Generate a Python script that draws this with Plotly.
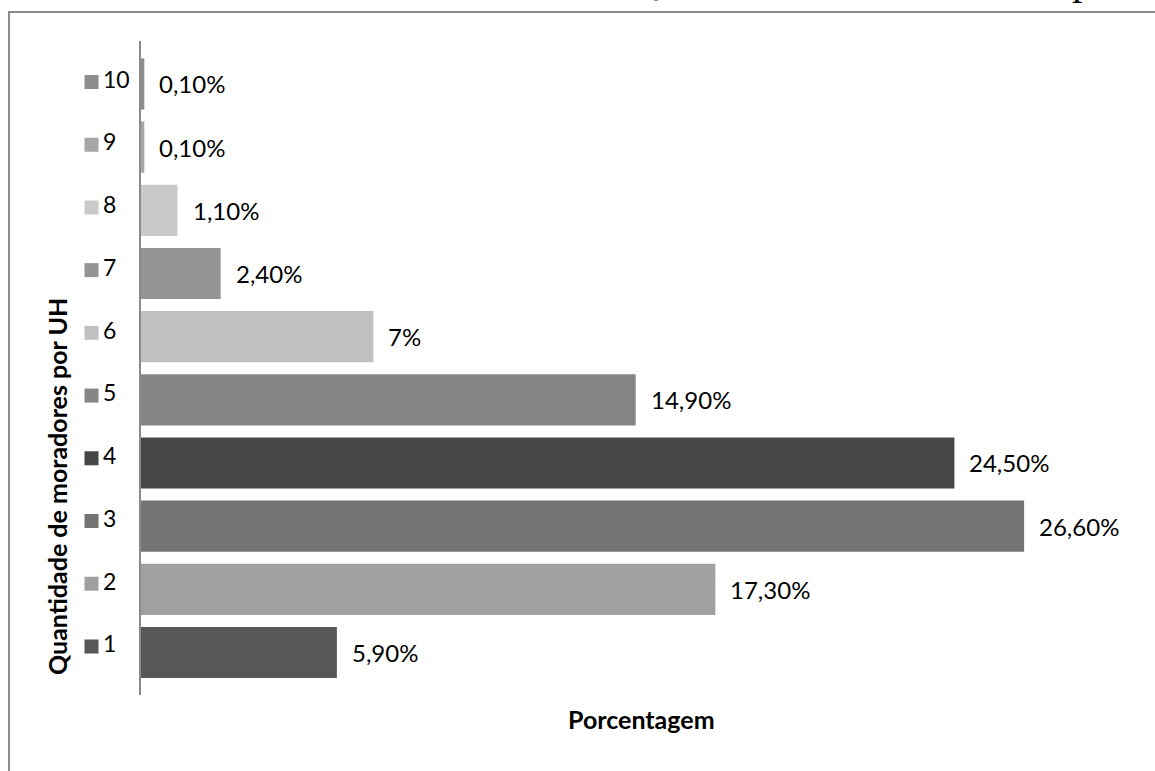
import plotly.graph_objects as go

# Residents per housing unit and share of households
categories = ["1", "2", "3", "4", "5", "6", "7", "8", "9", "10"]
percentages = [5.9, 17.3, 26.6, 24.5, 14.9, 7.0, 2.4, 1.1, 0.1, 0.1]
value_labels = ["5,90%", "17,30%", "26,60%", "24,50%", "14,90%",
                "7%", "2,40%", "1,10%", "0,10%", "0,10%"]
bar_colors = ["#575757", "#a0a0a0", "#747474", "#464646", "#868686",
              "#c0c0c0", "#959595", "#c9c9c9", "#a6a6a6", "#8d8d8d"]

W, H = 1155, 771
FONT = "Lato, 'Open Sans', sans-serif"

def px_x(p):
    return p / W

def px_y(p):
    return 1 - p / H

fig = go.Figure()

fig.add_trace(go.Bar(
    y=categories, x=percentages, orientation="h",
    marker=dict(color=bar_colors, line=dict(width=0)),
    width=0.81, showlegend=False, hoverinfo="skip",
))

# Legend-style swatches beside each bar
fig.add_trace(go.Scatter(
    x=[91.5] * len(categories), y=categories, mode="markers",
    marker=dict(symbol="square", size=14, color=bar_colors, line=dict(width=0)),
    xaxis="x2", yaxis="y2", showlegend=False, hoverinfo="skip",
))
fig.add_trace(go.Scatter(
    x=[103] * len(categories), y=categories, mode="text",
    text=categories, textposition="middle right",
    textfont=dict(family=FONT, size=23, color="#000000"),
    xaxis="x2", yaxis="y2", showlegend=False, hoverinfo="skip",
))

# Value labels to the right of each bar (category axis positions by index)
for idx, (val, lab) in enumerate(zip(percentages, value_labels)):
    fig.add_annotation(
        x=val, y=idx, xref="x", yref="y", text=lab, showarrow=False,
        xanchor="left", yanchor="middle", xshift=13,
        font=dict(family=FONT, size=24, color="#000000"),
    )

y_range = [-0.673, 9.68]
fig.update_layout(
    width=W, height=H,
    margin=dict(l=0, r=0, t=0, b=0),
    paper_bgcolor="white", plot_bgcolor="white",
    xaxis=dict(domain=[px_x(141), 1], range=[0, (W - 141) / 33.2],
               showgrid=False, zeroline=False, showticklabels=False,
               showline=False, ticks=""),
    yaxis=dict(domain=[px_y(695), px_y(41)], type="category",
               categoryorder="array", categoryarray=categories,
               range=y_range, showgrid=False, zeroline=False,
               showticklabels=False, ticks="",
               showline=True, linecolor="#8a8a8a", linewidth=2),
    xaxis2=dict(domain=[0, px_x(141)], range=[0, 141], anchor="y2",
                visible=False),
    yaxis2=dict(domain=[px_y(688.7), px_y(39.3)], type="category",
                categoryorder="array", categoryarray=categories,
                range=y_range, anchor="x2", visible=False),
    shapes=[dict(type="rect", xref="paper", yref="paper",
                 x0=px_x(9), x1=1.05, y0=-0.05, y1=px_y(12),
                 line=dict(color="#8c8c8c", width=2), fillcolor="rgba(0,0,0,0)",
                 layer="below")],
)

# Axis titles
fig.add_annotation(
    x=px_x(641), y=px_y(719), xref="paper", yref="paper",
    text="<b>Porcentagem</b>", showarrow=False,
    xanchor="center", yanchor="middle",
    font=dict(family=FONT, size=25, color="#000000"),
)
fig.add_annotation(
    x=px_x(57), y=px_y(487), xref="paper", yref="paper",
    text="<b>Quantidade de moradores por UH</b>", showarrow=False,
    textangle=-90, xanchor="center", yanchor="middle",
    font=dict(family=FONT, size=25, color="#000000"),
)

# Page heading above the chart frame
fig.add_annotation(
    x=px_x(628), y=px_y(5), xref="paper", yref="paper",
    text="Quantidade de moradores por UH", showarrow=False,
    xanchor="left", yanchor="bottom",
    font=dict(family="'Liberation Serif', serif", size=42, color="#000000"),
)

fig.write_html("out.html")
